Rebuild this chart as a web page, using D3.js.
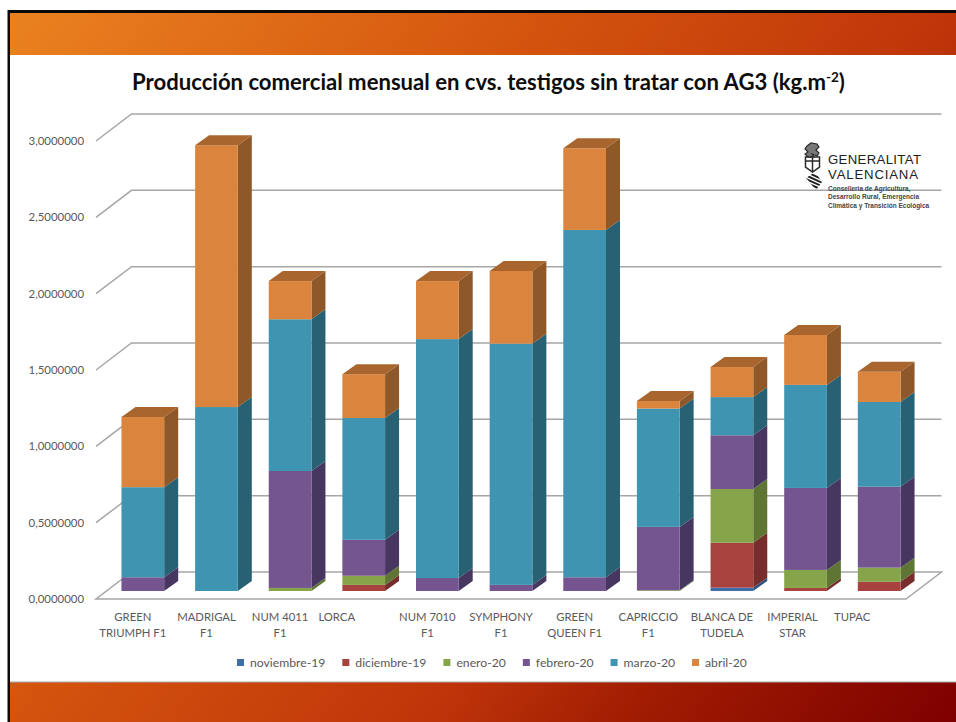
<!DOCTYPE html>
<html>
<head>
<meta charset="utf-8">
<style>
	body { margin: 0; background: #fff; }
	svg { display: block; font-family: Lato, 'Open Sans', sans-serif; }
</style>
<script src="https://cdnjs.cloudflare.com/ajax/libs/d3/7.8.5/d3.min.js"></script>
</head>
<body>
<div id="canvas"></div>
<script>
const categories = [
	['GREEN', 'TRIUMPH F1'], ['MADRIGAL', 'F1'], ['NUM 4011', 'F1'], ['LORCA'],
	['NUM 7010', 'F1'], ['SYMPHONY', 'F1'], ['GREEN', 'QUEEN F1'], ['CAPRICCIO', 'F1'],
	['BLANCA DE', 'TUDELA'], ['IMPERIAL', 'STAR'], ['TUPAC'],
];
const months = ['noviembre-19', 'diciembre-19', 'enero-20', 'febrero-20', 'marzo-20', 'abril-20'];

// kg.m-2
const noviembre = [0, 0, 0, 0, 0, 0, 0, 0, 0.022, 0, 0];
const diciembre = [0, 0, 0, 0.04, 0, 0, 0, 0, 0.294, 0.02, 0.06];
const enero = [0, 0, 0.02, 0.06, 0, 0, 0, 0.005, 0.352, 0.118, 0.093];
const febrero = [0.09, 0, 0.766, 0.235, 0.085, 0.04, 0.09, 0.415, 0.352, 0.537, 0.53];
const marzo = [0.59, 1.205, 0.994, 0.798, 1.565, 1.58, 2.275, 0.775, 0.25, 0.675, 0.555];
const abril = [0.46, 1.715, 0.25, 0.287, 0.38, 0.476, 0.535, 0.05, 0.197, 0.327, 0.198];

const yTicks = [0, 0.5, 1, 1.5, 2, 2.5, 3];

const faces = [
	{ front: '#3e6ea8', side: '#2d5180', top: '#4a7cb5' },
	{ front: '#a8423f', side: '#762d2b', top: '#8a3431' },
	{ front: '#86a44a', side: '#5f7533', top: '#6f8a3c' },
	{ front: '#74558f', side: '#463660', top: '#5a4272' },
	{ front: '#3f95b1', side: '#286174', top: '#317a92' },
	{ front: '#db843d', side: '#8f5828', top: '#a8652e' },
];

const width = 956;
const height = 722;
const floor = { front: 599, back: 572, left: 96, right: 906, dx: 35.5 };
const barBase = 591;
const barOffset = 10;
const depth = { x: 14, y: -10 };
const labelColor = '#595959';

const svg = d3.select('#canvas').append('svg').attr('width', width).attr('height', height);

const defs = svg.append('defs');
const grad = defs.append('linearGradient')
	.attr('id', 'slide')
	.attr('gradientUnits', 'userSpaceOnUse')
	.attr('x1', 10).attr('y1', 13).attr('x2', width).attr('y2', height);
[[0, '#ea8220'], [0.36, '#d4540e'], [0.64, '#bf350a'], [0.78, '#a01c02'], [1, '#7e0000']].forEach(([o, c]) => {
	grad.append('stop').attr('offset', o).attr('stop-color', c);
});

// slide frame
svg.append('rect').attr('x', 7.5).attr('y', 10).attr('width', width).attr('height', height).attr('fill', '#0a0a0a');
svg.append('rect').attr('x', 10).attr('y', 13).attr('width', width).attr('height', height).attr('fill', '#fff');
svg.append('rect').attr('x', 10).attr('y', 13).attr('width', width).attr('height', 42).attr('fill', 'url(#slide)');
svg.append('rect').attr('x', 10).attr('y', 682).attr('width', width).attr('height', 40).attr('fill', 'url(#slide)');
svg.append('line').attr('x1', 10).attr('x2', width).attr('y1', 682).attr('y2', 682).attr('stroke', '#a9a9a9').attr('stroke-width', 1.2);

const title = svg.append('text')
	.attr('x', 488.5).attr('y', 90)
	.attr('text-anchor', 'middle')
	.attr('font-size', 22.1).attr('font-weight', 700).attr('fill', '#0d0d0d')
	.text('Producción comercial mensual en cvs. testigos sin tratar con AG3 (kg.m');
title.append('tspan').attr('font-size', 13.5).attr('dy', -8).text('-2');
title.append('tspan').attr('dy', 8).text(')');

const x = d3.scaleBand()
	.domain(d3.range(categories.length))
	.range([floor.left, floor.right])
	.paddingInner(0.42)
	.paddingOuter(0.21);

// the axis scale runs along the front edge, bars stand a little further back
const y = d3.scaleLinear().domain([0, 3]).range([floor.front, floor.front - 458]);
const barY = d3.scaleLinear().domain([0, 3]).range([barBase, barBase - 458]);
const wallRise = floor.front - floor.back;

// floor
svg.append('path')
	.attr('d', d3.line()([
		[floor.left, floor.front], [floor.right, floor.front],
		[floor.right + floor.dx, floor.back], [floor.left + floor.dx, floor.back],
	]) + 'Z')
	.attr('fill', '#fff').attr('stroke', '#a6a6a6').attr('stroke-width', 1.5);

// gridlines, up the left wall and along the back
svg.append('g').selectAll('path')
	.data(yTicks.slice(1))
	.join('path')
	.attr('d', d => d3.line()([
		[floor.left, y(d)], [floor.left + floor.dx, y(d) - wallRise], [floor.right + floor.dx, y(d) - wallRise],
	]))
	.attr('fill', 'none').attr('stroke', '#a6a6a6').attr('stroke-width', 1.5);

drawLogo();

const yAxis = svg.append('g')
	.attr('transform', `translate(${floor.left},0)`)
	.call(d3.axisLeft(y)
		.tickValues(yTicks)
		.tickSize(0)
		.tickPadding(12)
		.tickFormat(d => d3.format('.7f')(d).replace('.', ',')));
yAxis.select('.domain').remove();
yAxis.selectAll('text').attr('font-size', 11.4).attr('font-family', 'Lato').attr('fill', labelColor);

const xAxis = svg.append('g')
	.attr('transform', `translate(0,${floor.front})`)
	.call(d3.axisBottom(x).tickSize(0).tickFormat(''));
xAxis.select('.domain').remove();
xAxis.selectAll('.tick text')
	.attr('font-size', 11.3).attr('font-family', 'Lato').attr('fill', labelColor)
	.each(function (i) {
		const sel = d3.select(this);
		// single word labels sit left of their slot in the reference
		const dx = categories[i].length === 1 ? -17 : (i === 9 ? -3 : 0);
		categories[i].forEach((line, k) => {
			sel.append('tspan')
				.attr('x', 0).attr('dx', dx)
				.attr('y', 21.5 + k * 16)
				.attr('dy', 0)
				.text(line);
		});
	});

const rows = categories.map((c, i) => ({
	'noviembre-19': noviembre[i],
	'diciembre-19': diciembre[i],
	'enero-20': enero[i],
	'febrero-20': febrero[i],
	'marzo-20': marzo[i],
	'abril-20': abril[i],
}));
const stacked = d3.stack().keys(months)(rows);

const bars = svg.append('g').attr('id', 'bars');
const barW = x.bandwidth();
categories.forEach((c, i) => {
	const g = bars.append('g').attr('transform', `translate(${x(i) + barOffset},0)`);
	stacked.forEach((layer, s) => {
		const [v0, v1] = layer[i];
		if (v1 <= v0) return;
		const y0 = barY(v0);
		const y1 = barY(v1);
		g.append('path')
			.attr('d', d3.line()([[barW, y0], [barW + depth.x, y0 + depth.y], [barW + depth.x, y1 + depth.y], [barW, y1]]) + 'Z')
			.attr('fill', faces[s].side);
		g.append('rect')
			.attr('x', 0).attr('y', y1)
			.attr('width', barW).attr('height', y0 - y1)
			.attr('fill', faces[s].front);
		if (s === stacked.length - 1) {
			g.append('path')
				.attr('d', d3.line()([[0, y1], [depth.x, y1 + depth.y], [barW + depth.x, y1 + depth.y], [barW, y1]]) + 'Z')
				.attr('fill', faces[s].top);
		}
	});
});

// legend
let legendX = 237;
months.forEach((m, s) => {
	svg.append('rect').attr('x', legendX).attr('y', 659).attr('width', 7).attr('height', 7).attr('fill', faces[s].front);
	const t = svg.append('text')
		.attr('x', legendX + 13).attr('y', 666.5)
		.attr('font-size', 12.2).attr('fill', labelColor)
		.text(m);
	legendX += 13 + t.node().getComputedTextLength() + 17;
});

function drawLogo() {
	const logo = svg.append('g').attr('id', 'logo');
	const ink = '#2b2b2b';
	// crest: dragon, helmet and shield
	logo.append('path')
		.attr('d', 'M807 146 l4 -3 l6 1 l2 3 l-3 3 l3 3 l-2 3 l-5 -2 l2 3 h-6 l-3 -3 l3 -2 l-3 -3 z')
		.attr('fill', '#777').attr('stroke', ink).attr('stroke-width', 1.2);
	logo.append('path')
		.attr('d', 'M805.5 157 h14 v10 l-7 5 l-7 -5 z M812.5 157 v14 M805.5 161 h14')
		.attr('fill', 'none').attr('stroke', ink).attr('stroke-width', 1.5);
	// striped diamond shield
	defs.append('clipPath').attr('id', 'diamond')
		.append('path').attr('d', 'M806 178 L815 172 L822 182 L816 190 Z');
	const stripes = logo.append('g').attr('clip-path', 'url(#diamond)').attr('stroke', '#1c1c1c').attr('stroke-width', 1.9);
	d3.range(6).forEach(i => {
		stripes.append('line')
			.attr('x1', 802).attr('y1', 170 + i * 3.6)
			.attr('x2', 824).attr('y2', 180 + i * 3.6);
	});
	const nameFont = 'Liberation Sans';
	logo.append('text').attr('x', 828).attr('y', 164).attr('font-size', 13.2).attr('font-family', nameFont).attr('fill', '#222')
		.attr('textLength', 93).attr('lengthAdjust', 'spacing').text('GENERALITAT');
	logo.append('text').attr('x', 828).attr('y', 179.3).attr('font-size', 13.2).attr('font-family', nameFont).attr('fill', '#222')
		.attr('textLength', 90).attr('lengthAdjust', 'spacing').text('VALENCIANA');
	['Conselleria de Agricultura,', 'Desarrollo Rural, Emergencia', 'Climática y Transición Ecológica'].forEach((line, i) => {
		logo.append('text')
			.attr('x', 828).attr('y', 190.5 + i * 8.7)
			.attr('font-size', 6.5).attr('font-weight', 700)
			.attr('font-family', nameFont).attr('fill', '#444')
			.text(line);
	});
}
</script>
</body>
</html>
